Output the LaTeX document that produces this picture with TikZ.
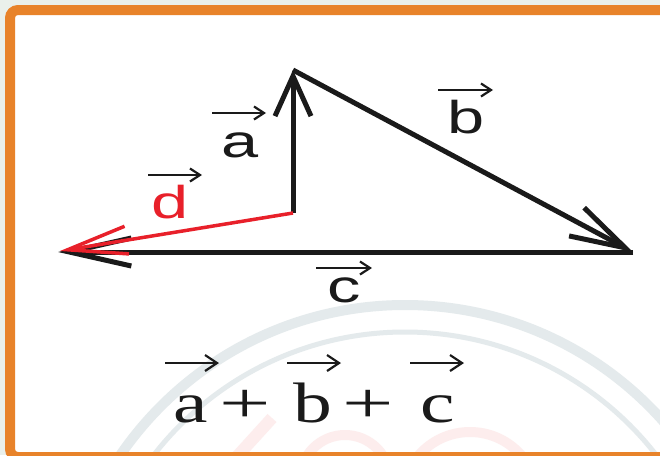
\documentclass[tikz,border=0pt]{standalone}
\usepackage{fontspec}
\setmainfont{Liberation Serif}
\newfontfamily\lsans{Liberation Sans}
\usetikzlibrary{arrows.meta}
\definecolor{frameor}{HTML}{E8832A}
\definecolor{outbg}{HTML}{EAF0EB}
\definecolor{wmgray}{HTML}{E4EAEC}
\definecolor{wmpink}{HTML}{FDEDED}
\definecolor{vred}{HTML}{E8202A}
\definecolor{ink}{HTML}{1A1A1A}
\newcommand{\wideL}[1]{\scalebox{1.45}[1]{#1}}
\newcommand{\wideS}[1]{\scalebox{1.36}[1]{#1}}
\newcommand{\wideP}[1]{\scalebox{1.6}[1]{#1}}
\begin{document}
\begin{tikzpicture}[x=1pt,y=-1pt,
  vecline/.style={ink, line width=5pt},
  lbl/.style={inner sep=0pt, anchor=base, text=ink, font=\lsans\fontsize{46}{48}\selectfont},
  sumtxt/.style={inner sep=0pt, anchor=base, text=ink, font=\fontsize{57}{60}\selectfont},
  varrow/.style={ink, line width=2.2pt, -{Straight Barb[length=10pt,width=13pt]}},
  sarrow/.style={ink, line width=2.2pt, -{Straight Barb[length=12pt,width=16pt]}}]
\useasboundingbox (0,0) rectangle (660,455);
\clip (0,0) rectangle (660,455);
\fill[outbg] (0,0) rectangle (660,455);
\draw[frameor, line width=10pt, fill=white, rounded corners=8pt] (10,10) rectangle (690,457);
% watermark
\begin{scope}
\clip (15,15) rectangle (660,451);
\draw[wmgray, line width=10pt] (405,650) circle (345);
\draw[wmgray, line width=5pt] (405,650) circle (318);
\draw[wmpink, line width=12pt] (232,462) -- (272,418);
\draw[wmpink, line width=10pt] (345,480) circle (45);
\draw[wmpink, line width=10pt] (470,500) circle (68);
\end{scope}
% vectors
\coordinate (O) at (293,213);
\coordinate (A) at (293,70);
\coordinate (B) at (633,252);
\coordinate (C) at (58,252);
\coordinate (Dt) at (60,251);
\draw[vecline, -{Straight Barb[length=40pt,width=36pt]}] (O) -- (A);
\draw[vecline, -{Straight Barb[length=55pt,width=32pt]}] (A) -- (B);
\draw[vecline, -{Straight Barb[length=62pt,width=28pt]}] (B) -- (C);
\draw[vred, line width=3.5pt, -{Straight Barb[length=60pt,width=28pt]}] (O) -- (Dt);
% labels
\node[lbl] (la) at (240,157) {\wideL{a}};
\node[lbl] (lb) at (466,133) {\wideL{b}};
\node[lbl] (lc) at (344,302) {\wideL{c}};
\node[lbl, text=vred] (ld) at (170,218) {\wideL{d}};
\coordinate (va1) at (212,113); \coordinate (va2) at (266,113);
\coordinate (vb1) at (438,90);  \coordinate (vb2) at (493,90);
\coordinate (vc1) at (316,268); \coordinate (vc2) at (372,268);
\coordinate (vd1) at (148,175); \coordinate (vd2) at (202,175);
\draw[varrow] (va1) -- (va2);
\draw[varrow] (vb1) -- (vb2);
\draw[varrow] (vc1) -- (vc2);
\draw[varrow] (vd1) -- (vd2);
% sum
\node[sumtxt] (sa) at (191,422) {\wideS{a}};
\node[sumtxt] (p1) at (245,422) {\wideP{+}};
\node[sumtxt] (sb) at (313,422) {\wideS{b}};
\node[sumtxt] (p2) at (368,422) {\wideP{+}};
\node[sumtxt] (sc) at (438,422) {\wideS{c}};
\coordinate (sa1) at (165,363); \coordinate (sa2) at (219,363);
\coordinate (sb1) at (287,363); \coordinate (sb2) at (341,363);
\coordinate (sc1) at (410,363); \coordinate (sc2) at (464,363);
\draw[sarrow] (sa1) -- (sa2);
\draw[sarrow] (sb1) -- (sb2);
\draw[sarrow] (sc1) -- (sc2);
\end{tikzpicture}
\end{document}
